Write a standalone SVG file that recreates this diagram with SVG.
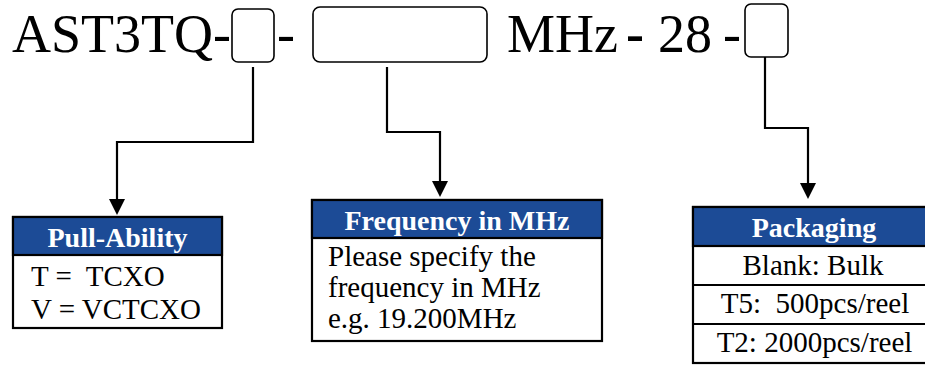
<svg xmlns="http://www.w3.org/2000/svg" width="925" height="365" viewBox="0 0 925 365">
<defs>
<style>
.title{font-family:"Liberation Serif","Times New Roman",serif;font-size:54px;fill:#000}
.slot{fill:#fff;stroke:#000;stroke-width:1.6}
.box{fill:#fff;stroke:#000;stroke-width:2.2}
.hdr{fill:#1c4b96;stroke:#000;stroke-width:2.2}
.ht{font-family:"Liberation Serif","Times New Roman",serif;font-size:28px;font-weight:bold;fill:#fff;text-anchor:middle}
.bt{font-family:"Liberation Serif","Times New Roman",serif;font-size:29px;fill:#000;white-space:pre}
.ctr{text-anchor:middle}
.conn{fill:none;stroke:#000;stroke-width:2.2}
</style>
<marker id="arr" markerUnits="userSpaceOnUse" viewBox="0 0 16 16" markerWidth="16" markerHeight="16" refX="8" refY="8" orient="auto">
<path d="M0,0 L16,8 L0,16 Z" fill="#000"/>
</marker>
</defs>
<rect width="925" height="365" fill="#fff"/>
<g id="title">
<text class="title" x="12" y="52">AST3TQ-</text>
<rect class="slot" x="232" y="9" width="42" height="53" rx="6"/>
<text class="title" x="277" y="52">-</text>
<rect class="slot" x="313" y="7" width="174" height="55" rx="7"/>
<text class="title" x="507" y="52">MHz</text>
<text class="title" x="626" y="52" font-weight="bold">-</text>
<text class="title" x="658" y="52">28</text>
<text class="title" x="723" y="52">-</text>
<rect class="slot" x="745" y="4" width="43" height="53" rx="6"/>
</g>
<g id="connectors">
<path class="conn" d="M253,67 V142 H117 V207" marker-end="url(#arr)"/>
<path class="conn" d="M387,67 V132 H440 V189" marker-end="url(#arr)"/>
<path class="conn" d="M765,57 V128 H808 V191" marker-end="url(#arr)"/>
</g>
<g id="pull-ability">
<rect class="box" x="13" y="217" width="209" height="111"/>
<rect class="hdr" x="13" y="217" width="209" height="38"/>
<text class="ht" x="117.5" y="247">Pull-Ability</text>
<text class="bt" x="31" y="286">T =  TCXO</text>
<text class="bt" x="31" y="319">V = VCTCXO</text>
</g>
<g id="frequency">
<rect class="box" x="312" y="200" width="290" height="141"/>
<rect class="hdr" x="312" y="200" width="290" height="38"/>
<text class="ht" x="457" y="230">Frequency in MHz</text>
<text class="bt" x="328" y="266">Please specify the</text>
<text class="bt" x="328" y="297">frequency in MHz</text>
<text class="bt" x="328" y="328">e.g. 19.200MHz</text>
</g>
<g id="packaging">
<rect class="box" x="693" y="207" width="242" height="156"/>
<rect class="hdr" x="693" y="207" width="242" height="39"/>
<line class="conn" x1="693" y1="285" x2="935" y2="285"/>
<line class="conn" x1="693" y1="324" x2="935" y2="324"/>
<text class="ht" x="814" y="237">Packaging</text>
<text class="bt ctr" x="813" y="275">Blank: Bulk</text>
<text class="bt ctr" x="815" y="313">T5:  500pcs/reel</text>
<text class="bt ctr" x="814.5" y="352">T2: 2000pcs/reel</text>
</g>
</svg>
